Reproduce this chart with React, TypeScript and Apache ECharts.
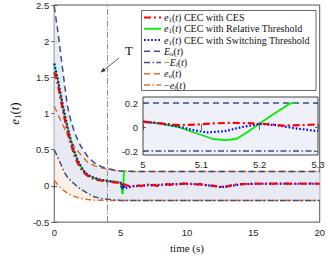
import React, { useEffect, useRef } from 'react';
import * as echarts from 'echarts';

// ---- data ----
const T_BOUND = [0, 0.25, 0.5, 0.75, 1, 1.25, 1.5, 1.75, 2, 2.5, 3, 3.5, 4, 4.5, 5, 6, 8, 10, 12, 14, 16, 18, 20];
const E_UPPER = [2.48, 2.16, 1.8, 1.44, 1.1, 0.9, 0.76, 0.64, 0.55, 0.41, 0.32, 0.27, 0.24, 0.22, 0.205, 0.2, 0.2, 0.2, 0.2, 0.2, 0.2, 0.2, 0.2];
const E_LOWER_NEG = [0.5, 0.4, 0.3, 0.19, 0.12, 0.07, 0.03, -0.01, -0.045, -0.1, -0.15, -0.172, -0.183, -0.192, -0.2, -0.2, -0.2, -0.2, -0.2, -0.2, -0.2, -0.2, -0.2];
const e_UPPER = [1.1, 1.0, 0.9, 0.8, 0.7, 0.62, 0.55, 0.49, 0.43, 0.33, 0.28, 0.25, 0.23, 0.215, 0.205, 0.2, 0.2, 0.2, 0.2, 0.2, 0.2, 0.2, 0.2];
const e_LOWER_NEG = [0.08, 0.02, -0.03, -0.07, -0.1, -0.125, -0.145, -0.16, -0.172, -0.188, -0.196, -0.199, -0.2, -0.2, -0.2, -0.2, -0.2, -0.2, -0.2, -0.2, -0.2, -0.2, -0.2];
const BOUND_UPPER_FINAL = 0.2;
const BOUND_LOWER_FINAL = -0.2;

const T_EVENT = 4;

const T_CES = [0, 0.25, 0.5, 0.75, 1, 1.25, 1.5, 1.75, 2, 2.25, 2.5, 3, 3.5, 4, 4.5, 5, 5.03, 5.06, 5.09, 5.12, 5.15, 5.18, 5.21, 5.24, 5.27, 5.3, 5.5, 5.75, 6, 6.25, 6.5, 6.75, 7, 7.25, 7.5, 7.75, 8, 8.25, 8.5, 8.75, 9, 9.25, 9.5, 9.75, 10, 10.25, 10.5, 10.75, 11, 11.25, 11.5, 11.75, 12, 12.25, 12.5, 12.75, 13, 13.25, 13.5, 13.75, 14, 14.25, 14.5, 14.75, 15, 15.25, 15.5, 15.75, 16, 16.25, 16.5, 16.75, 17, 17.25, 17.5, 17.75, 18, 18.25, 18.5, 18.75, 19, 19.25, 19.5, 19.75, 20];
const V_CES = [1.57, 1.42, 1.18, 0.95, 0.75, 0.58, 0.43, 0.32, 0.24, 0.18, 0.14, 0.095, 0.075, 0.062, 0.05, 0.045, 0.03, 0.015, 0.02, 0.03, 0.035, 0.032, 0.025, 0.012, 0.015, 0.022, 0.005, -0.01, 0.0, 0.015, -0.005, 0.01, 0.02, 0.005, 0.015, 0.0, 0.02, 0.01, 0.025, 0.015, 0.03, 0.02, 0.025, 0.035, 0.03, 0.025, 0.03, 0.02, 0.025, 0.015, 0.01, 0.005, 0.0, -0.005, -0.01, -0.012, -0.005, 0.005, 0.015, 0.02, 0.025, 0.025, 0.03, 0.028, 0.03, 0.032, 0.03, 0.035, 0.03, 0.033, 0.03, 0.035, 0.032, 0.03, 0.035, 0.03, 0.033, 0.03, 0.035, 0.03, 0.033, 0.035, 0.03, 0.033, 0.03];

const T_REL = [0, 0.25, 0.5, 0.75, 1, 1.25, 1.5, 1.75, 2, 2.25, 2.5, 3, 3.5, 4, 4.5, 5, 5.03, 5.06, 5.09, 5.12, 5.14, 5.16, 5.18, 5.2, 5.22, 5.25, 5.26];
const V_REL = [1.67, 1.48, 1.24, 1.01, 0.81, 0.63, 0.48, 0.36, 0.27, 0.2, 0.155, 0.11, 0.085, 0.07, 0.058, 0.045, 0.028, 0.0, -0.05, -0.1, -0.11, -0.1, -0.04, 0.03, 0.095, 0.19, 0.205];

const T_SW = [0, 0.25, 0.5, 0.75, 1, 1.25, 1.5, 1.75, 2, 2.25, 2.5, 3, 3.5, 4, 4.5, 5, 5.03, 5.06, 5.09, 5.11, 5.14, 5.17, 5.2, 5.23, 5.26, 5.3, 5.5, 6, 7, 8, 9, 10, 11, 12, 12.5, 13, 14, 15, 16, 18, 20];
const V_SW = [1.69, 1.49, 1.25, 1.02, 0.81, 0.63, 0.48, 0.36, 0.27, 0.2, 0.155, 0.11, 0.085, 0.07, 0.058, 0.045, 0.03, 0.005, -0.03, -0.045, -0.035, 0.0, 0.025, 0.015, -0.01, -0.035, -0.02, -0.005, 0.01, 0.015, 0.025, 0.03, 0.02, 0.0, -0.015, -0.01, 0.02, 0.03, 0.03, 0.03, 0.03];

const MAIN_X_TICKS = [0, 5, 10, 15, 20];
const INSET_X_MIN = 5;
const INSET_X_MAX = 5.3;
const INSET_X_TICKS = [5, 5.1, 5.2, 5.3];

const LEGEND_NAMES = ['ces', 'rel', 'sw', 'Eu', 'El', 'eu', 'el'];
const LEGEND_LABELS: Record<string, string> = {
  ces: '{i|e}{s|1}({i|t}) CEC with CES',
  rel: '{i|e}{s|1}({i|t}) CEC with Relative Threshold',
  sw: '{i|e}{s|1}({i|t}) CEC with Switching Threshold',
  Eu: '{i|E}{si|u}({i|t})',
  El: '\u2212{i|E}{si|l}({i|t})',
  eu: '{i|e}{si|u}({i|t})',
  el: '\u2212{i|e}{si|l}({i|t})',
};

const SERIF = 'Liberation Serif';
const SANS = 'Liberation Sans';
const NAVY = '#3b4f82';
const ORANGE = '#e66a2c';

const zip = (t: number[], v: number[]) => t.map((x, i) => [x, v[i]]);
const inInset = (d: number[][]) => d.filter(([t]) => t >= INSET_X_MIN && t <= INSET_X_MAX);

export default function App() {
  const ref = useRef<HTMLDivElement>(null);
  useEffect(() => {
    if (!ref.current) return;
    const chart = echarts.init(ref.current, null, { renderer: 'svg' });

    const richSmall = {
      i: { fontStyle: 'italic', fontFamily: SERIF, fontSize: 10, fill: '#111' },
      s: { fontFamily: SERIF, fontSize: 7, padding: [5, 0, 0, 0], fill: '#111' },
      si: { fontFamily: SERIF, fontStyle: 'italic', fontSize: 7, padding: [5, 0, 0, 0], fill: '#111' },
    };

    const styles: Record<string, any> = {
      ces: { color: '#ff0000', width: 2.2, type: [7, 3, 2, 3] },
      rel: { color: '#00ee00', width: 1.8, type: 'solid' },
      sw: { color: '#0000ff', width: 2.2, type: [1.6, 2] },
      Eu: { color: NAVY, width: 1.5, type: [6, 4] },
      El: { color: NAVY, width: 1.5, type: [6, 2.5, 1.5, 2.5] },
      eu: { color: ORANGE, width: 1.5, type: [6, 4] },
      el: { color: ORANGE, width: 1.5, type: [6, 2.5, 1.5, 2.5] },
    };
    const dataFor: Record<string, number[][]> = {
      ces: zip(T_CES, V_CES),
      rel: zip(T_REL, V_REL),
      sw: zip(T_SW, V_SW),
      Eu: zip(T_BOUND, E_UPPER),
      El: zip(T_BOUND, E_LOWER_NEG),
      eu: zip(T_BOUND, e_UPPER),
      el: zip(T_BOUND, e_LOWER_NEG),
    };
    const mkLine = (name: string, xi: number, yi: number, z: number, data: number[][], extra: any = {}) => ({
      type: 'line', symbol: 'none', showSymbol: false, silent: true,
      name, xAxisIndex: xi, yAxisIndex: yi, data,
      lineStyle: styles[name], itemStyle: { color: styles[name].color },
      z, ...extra,
    });

    const band = (upper: number[], lower: number[], fill: string, opacity: number) => ({
      type: 'custom', xAxisIndex: 0, yAxisIndex: 0, silent: true, z: 1,
      data: [[0, 0]],
      renderItem: (_p: any, api: any) => {
        const top = T_BOUND.map((t, i) => api.coord([t, upper[i]]));
        const bot = T_BOUND.map((t, i) => api.coord([t, lower[i]])).reverse();
        return { type: 'polygon', shape: { points: top.concat(bot) }, style: { fill, opacity } };
      },
    });

    const series: any[] = [
      band(e_UPPER, e_LOWER_NEG, '#fbe2d4', 0.5),
      band(E_UPPER, E_LOWER_NEG, '#e1e7f5', 0.8),
      mkLine('eu', 0, 0, 3, dataFor.eu),
      mkLine('el', 0, 0, 3, dataFor.el),
      mkLine('Eu', 0, 0, 3, dataFor.Eu, {
        markLine: {
          silent: true, symbol: ['none', 'none'], label: { show: false },
          lineStyle: { color: '#8e8e8e', width: 1, type: [6, 2, 1.5, 2] },
          data: [{ xAxis: T_EVENT }],
        },
      }),
      mkLine('El', 0, 0, 3, dataFor.El),
      mkLine('rel', 0, 0, 4, dataFor.rel),
      mkLine('sw', 0, 0, 5, dataFor.sw),
      mkLine('ces', 0, 0, 6, dataFor.ces),
      // inset
      mkLine('Eu', 2, 2, 3, [[INSET_X_MIN, BOUND_UPPER_FINAL], [INSET_X_MAX, BOUND_UPPER_FINAL]], { clip: false }),
      mkLine('El', 2, 2, 3, [[INSET_X_MIN, BOUND_LOWER_FINAL], [INSET_X_MAX, BOUND_LOWER_FINAL]], { clip: false }),
      mkLine('rel', 2, 2, 4, inInset(dataFor.rel), { clip: false }),
      mkLine('sw', 2, 2, 5, inInset(dataFor.sw), { clip: false }),
      mkLine('ces', 2, 2, 6, inInset(dataFor.ces), { clip: false }),
    ];

    const tickStyle = { inside: true, length: 3, lineStyle: { color: '#444', width: 0.8 } };
    const labelStyle = { fontFamily: SANS, fontSize: 9.5, color: '#262626' };

    const LX = 144, LX2 = 161, LT = 17.5, LP = 11.25;
    const legendGraphics: any[] = [
      { type: 'rect', shape: { x: 141.5, y: 10.5, width: 174.5, height: 80 }, style: { fill: '#fff', stroke: '#444', lineWidth: 0.8 }, z: 10 },
    ];
    LEGEND_NAMES.forEach((n, k) => {
      const y = LT + k * LP;
      const st = styles[n];
      legendGraphics.push({
        type: 'line', z: 11,
        shape: { x1: LX, y1: y, x2: LX2, y2: y },
        style: { stroke: st.color, lineWidth: st.width, lineDash: Array.isArray(st.type) ? st.type : null },
      });
      legendGraphics.push({
        type: 'text', z: 11, x: 164, y,
        style: { text: LEGEND_LABELS[n], fontFamily: SERIF, fontSize: 10, fill: '#111', verticalAlign: 'middle', align: 'left', rich: richSmall },
      });
    });

    chart.setOption({
      animation: false,
      grid: [
        { left: 38, right: 7, top: 5, bottom: 29, show: true, borderColor: '#555', borderWidth: 1, backgroundColor: 'transparent' },
        { left: 143, right: 10, top: 103, bottom: 107, show: false },
      ],
      xAxis: [
        { type: 'value', gridIndex: 0, min: 0, max: 20, interval: 5, position: 'bottom',
          name: 'time (s)', nameLocation: 'middle', nameGap: 17,
          nameTextStyle: { fontFamily: SERIF, fontSize: 11, color: '#111' },
          axisLine: { show: false }, axisTick: { ...tickStyle, customValues: MAIN_X_TICKS },
          axisLabel: { ...labelStyle, margin: 5, customValues: MAIN_X_TICKS }, splitLine: { show: false } },
        { type: 'value', gridIndex: 0, min: 0, max: 20, interval: 5, position: 'top',
          axisLine: { show: false }, axisTick: { ...tickStyle, customValues: MAIN_X_TICKS },
          axisLabel: { show: false }, splitLine: { show: false } },
        { type: 'value', gridIndex: 1, min: INSET_X_MIN, max: INSET_X_MAX, position: 'bottom', offset: 4,
          axisLine: { show: false }, axisTick: { ...tickStyle, customValues: INSET_X_TICKS },
          axisLabel: { ...labelStyle, margin: 4, customValues: INSET_X_TICKS, formatter: (v: number) => String(Math.round(v * 10) / 10) },
          splitLine: { show: false } },
        { type: 'value', gridIndex: 1, min: INSET_X_MIN, max: INSET_X_MAX, position: 'top', offset: 6,
          axisLine: { show: false }, axisTick: { ...tickStyle, customValues: INSET_X_TICKS },
          axisLabel: { show: false }, splitLine: { show: false } },
      ],
      yAxis: [
        { type: 'value', gridIndex: 0, min: -0.5, max: 2.5, interval: 0.5, position: 'left',
          name: '{i|e}{s|1}({i|t})', nameLocation: 'middle', nameGap: 25, nameRotate: 90,
          nameTextStyle: { fontFamily: SERIF, fontSize: 13, color: '#111', rich: {
            i: { fontStyle: 'italic', fontFamily: SERIF, fontSize: 13 },
            s: { fontFamily: SERIF, fontSize: 9, padding: [6, 0, 0, 0] } } },
          axisLine: { show: false }, axisTick: tickStyle,
          axisLabel: { ...labelStyle, margin: 5 }, splitLine: { show: false } },
        { type: 'value', gridIndex: 0, min: -0.5, max: 2.5, interval: 0.5, position: 'right',
          axisLine: { show: false }, axisTick: tickStyle, axisLabel: { show: false }, splitLine: { show: false } },
        { type: 'value', gridIndex: 1, min: -0.2, max: 0.2, interval: 0.2, position: 'left',
          axisLine: { show: false }, axisTick: tickStyle,
          axisLabel: { ...labelStyle, margin: 5 }, splitLine: { show: false } },
        { type: 'value', gridIndex: 1, min: -0.2, max: 0.2, interval: 0.2, position: 'right',
          axisLine: { show: false }, axisTick: tickStyle,
          axisLabel: { show: false }, splitLine: { show: false } },
      ],
      graphic: [
        { type: 'rect', shape: { x: 143, y: 97, width: 175, height: 58 }, style: { fill: '#eef1f9', stroke: '#444', lineWidth: 1 }, z: 0 },
        { type: 'text', x: 125, y: 44, style: { text: 'T', fontFamily: SERIF, fontSize: 13, fill: '#111' } },
        { type: 'line', shape: { x1: 119, y1: 58, x2: 102, y2: 71.5 }, style: { stroke: '#333', lineWidth: 0.8 } },
        { type: 'polygon', shape: { points: [[100.5, 72.5], [105.6, 71.0], [103.2, 67.8]] }, style: { fill: '#333' } },
        ...legendGraphics,
      ],
      series,
    });
    return () => chart.dispose();
  }, []);
  return <div ref={ref} style={{ width: 328, height: 258, position: 'absolute', left: 0, top: 0, background: '#fff' }} />;
}
